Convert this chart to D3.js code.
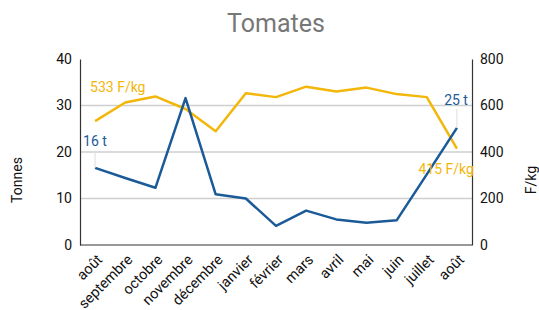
<!DOCTYPE html>
<html>
<head>
<meta charset="utf-8">
<script src="https://cdn.jsdelivr.net/npm/d3@7"></script>
<style>
  body { margin: 0; background: #fff; }
  svg text { font-family: Roboto, "Noto Sans", sans-serif; }
</style>
</head>
<body>
<svg id="chart"></svg>
<script>
// months on x axis (août appears twice)
const months = ["août", "septembre", "octobre", "novembre", "décembre", "janvier",
  "février", "mars", "avril", "mai", "juin", "juillet", "août"];
const tonnes = [16.6, 14.4, 12.3, 31.6, 10.9, 10.0, 4.1, 7.4, 5.5, 4.8, 5.3, 15.2, 25.2];
const prix = [533, 613, 639, 585, 489, 653, 636, 681, 660, 677, 649, 636, 415];
const leftTicks = [0, 10, 20, 30, 40];
const rightTicks = [0, 200, 400, 600, 800];

const width = 539, height = 310;
const margin = { top: 59, right: 67, bottom: 65, left: 80 };
const blue = "#1b5a98";
const yellow = "#f3b60a";

const svg = d3.select("#chart").attr("width", width).attr("height", height);

const x = d3.scalePoint()
  .domain(d3.range(months.length))
  .range([margin.left, width - margin.right])
  .padding(0.5);
const yL = d3.scaleLinear().domain([0, 40]).range([height - margin.bottom, margin.top]);
const yR = d3.scaleLinear().domain([0, 800]).range([height - margin.bottom, margin.top]);

// title
svg.append("text")
  .attr("x", 276).attr("y", 32)
  .attr("text-anchor", "middle")
  .attr("fill", "#777")
  .style("font-size", "25px")
  .text("Tomates");

// gridlines
svg.append("g")
  .selectAll("line")
  .data([10, 20, 30])
  .enter()
  .append("line")
  .attr("x1", margin.left).attr("x2", width - margin.right)
  .attr("y1", (d) => yL(d)).attr("y2", (d) => yL(d))
  .attr("stroke", "#cfcfcf")
  .attr("stroke-width", 1.5);

// left axis
const gL = svg.append("g")
  .attr("transform", `translate(${margin.left},0)`)
  .call(d3.axisLeft(yL).tickValues(leftTicks).tickSize(0).tickPadding(8));
gL.select(".domain").attr("stroke", "#333").attr("stroke-width", 1.2);
gL.selectAll("text").style("font-size", "14px").attr("fill", "#111");

// right axis
const gR = svg.append("g")
  .attr("transform", `translate(${width - margin.right},0)`)
  .call(d3.axisRight(yR).tickValues(rightTicks).tickSize(0).tickPadding(8));
gR.select(".domain").attr("stroke", "#333").attr("stroke-width", 1.2);
gR.selectAll("text").style("font-size", "14px").attr("fill", "#111");

// bottom axis
const gB = svg.append("g")
  .attr("transform", `translate(0,${height - margin.bottom})`)
  .call(d3.axisBottom(x).tickSize(0).tickFormat((i) => months[i]));
gB.select(".domain")
  .attr("d", `M${margin.left},0H${width - margin.right}`)
  .attr("stroke", "#333").attr("stroke-width", 1.2);
gB.selectAll("text")
  .style("font-size", "14.5px")
  .attr("fill", "#111")
  .attr("text-anchor", "end")
  .attr("y", 0)
  .attr("dy", "0.35em")
  .attr("transform", "translate(4,12) rotate(-45)");

// axis titles
svg.append("text")
  .attr("transform", `translate(22,${180}) rotate(-90)`)
  .attr("text-anchor", "middle")
  .style("font-size", "14px")
  .attr("fill", "#111")
  .text("Tonnes");
svg.append("text")
  .attr("transform", `translate(536,${180}) rotate(-90)`)
  .attr("text-anchor", "middle")
  .style("font-size", "14px")
  .attr("fill", "#111")
  .text("F/kg");

// lines
const lineL = d3.line().x((d, i) => x(i)).y((d) => yL(d));
const lineR = d3.line().x((d, i) => x(i)).y((d) => yR(d));

svg.append("path")
  .datum(prix)
  .attr("d", lineR)
  .attr("fill", "none")
  .attr("stroke", yellow)
  .attr("stroke-width", 2.5)
  .attr("stroke-linejoin", "round");

svg.append("path")
  .datum(tonnes)
  .attr("d", lineL)
  .attr("fill", "none")
  .attr("stroke", blue)
  .attr("stroke-width", 2.5)
  .attr("stroke-linejoin", "round");

// labels
const last = months.length - 1;
// leader lines for tonnes labels
svg.append("line")
  .attr("x1", x(0)).attr("x2", x(0))
  .attr("y1", yL(tonnes[0]) - 17).attr("y2", yL(tonnes[0]))
  .attr("stroke", "#ddd").attr("stroke-width", 1);
svg.append("line")
  .attr("x1", x(last)).attr("x2", x(last))
  .attr("y1", yL(tonnes[last]) - 19).attr("y2", yL(tonnes[last]))
  .attr("stroke", "#ddd").attr("stroke-width", 1);

svg.append("text")
  .attr("x", x(0) - 12).attr("y", yL(tonnes[0]) - 22)
  .attr("fill", blue)
  .style("font-size", "14px")
  .text(`${Math.round(tonnes[0] - 0.5)} t`);
svg.append("text")
  .attr("x", x(last) + 11).attr("y", yL(tonnes[last]) - 23)
  .attr("text-anchor", "end")
  .attr("fill", blue)
  .style("font-size", "14px")
  .text(`${Math.round(tonnes[last] - 0.2)} t`);

svg.append("text")
  .attr("x", x(0) - 5).attr("y", yR(prix[0]) - 29)
  .attr("fill", yellow)
  .style("font-size", "14px")
  .text(`${prix[0]} F/kg`);
svg.append("text")
  .attr("x", x(last) + 17).attr("y", yR(prix[last]) + 25)
  .attr("text-anchor", "end")
  .attr("fill", yellow)
  .style("font-size", "14px")
  .text(`${prix[last]} F/kg`);
</script>
</body>
</html>
